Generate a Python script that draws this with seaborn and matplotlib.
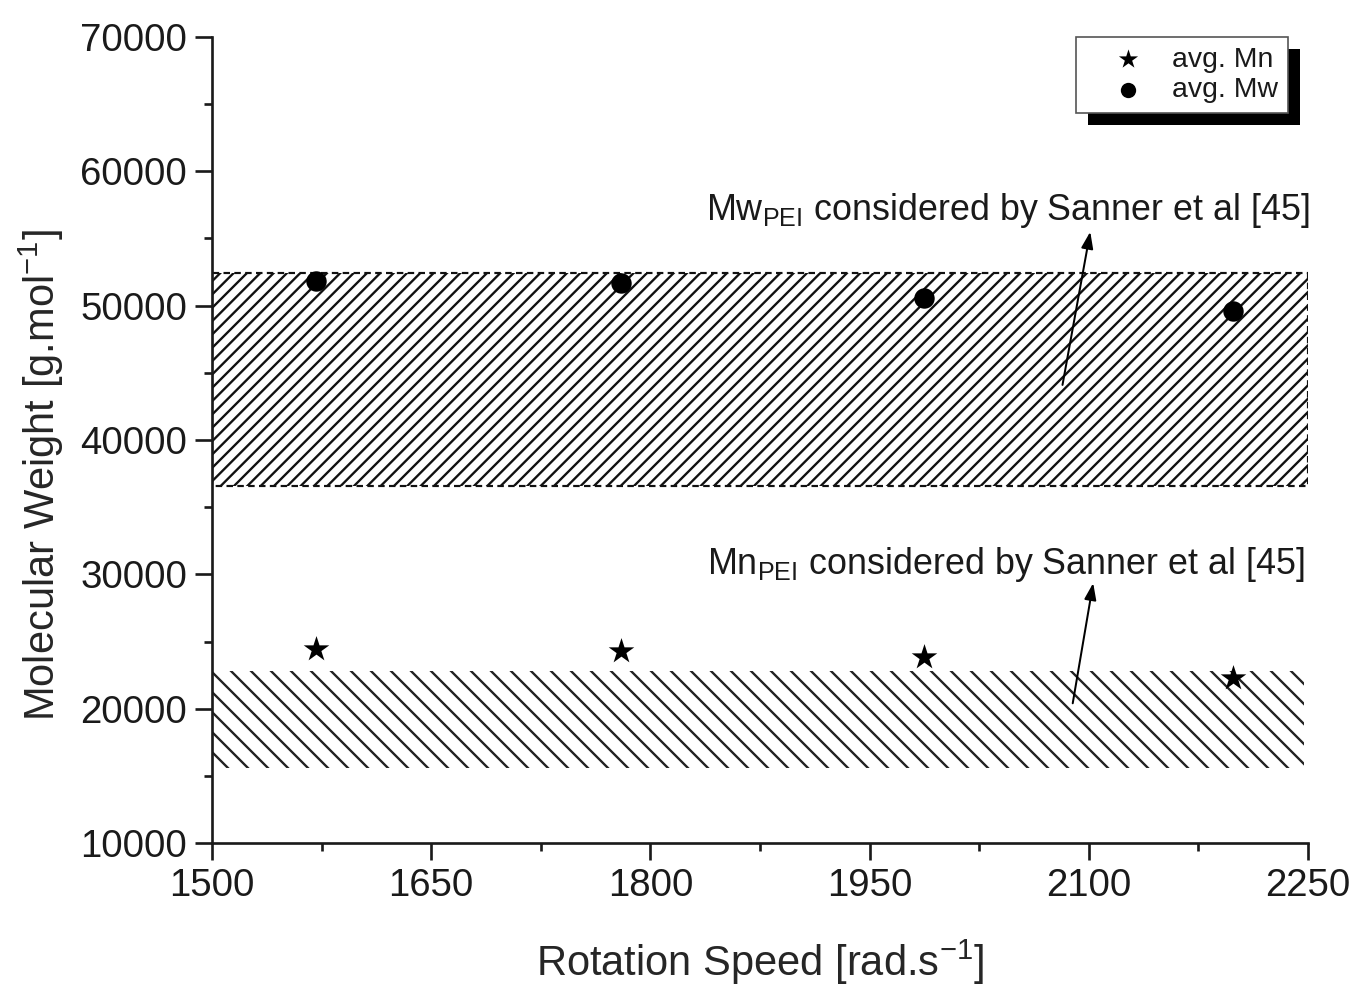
import numpy as np
import pandas as pd
import matplotlib
matplotlib.use("Agg")
import matplotlib.pyplot as plt
import seaborn as sns
from matplotlib.patches import Rectangle
from matplotlib.ticker import MultipleLocator, AutoMinorLocator

# Data
speed = [1571, 1780, 1987, 2199]
avg_mw = [51850, 51700, 50550, 49600]
avg_mn = [24450, 24300, 23850, 22250]

# Ranges reported by Sanner et al [45]
mw_band = [36550, 52400]
mn_band = [15600, 22800]
band_x = [1500, 2250]
mn_band_x = [1500, 2247]

sns.set_theme(style="ticks")
plt.rcParams['font.family'] = ['Liberation Sans', 'DejaVu Sans']
plt.rcParams['mathtext.default'] = 'regular'
plt.rcParams['hatch.linewidth'] = 1.4
plt.rcParams['text.color'] = '#1a1a1a'

fig = plt.figure(figsize=(1355 / 120, 987 / 120), dpi=120)
ax = fig.add_axes([212 / 1355, 1 - 843 / 987, 1096 / 1355, 806 / 987])

# hatched bands
ax.fill_between(band_x, mw_band[0], mw_band[1], facecolor='white',
                edgecolor='#111111', hatch='///', linestyle=(0, (3, 2)),
                linewidth=1.3, zorder=1)
ax.fill_between(mn_band_x, mn_band[0], mn_band[1], facecolor='white',
                edgecolor='#222222', hatch='\\\\', linewidth=0, zorder=1)

df = pd.DataFrame({'speed': speed * 2,
                   'mw': avg_mn + avg_mw,
                   'kind': ['avg. Mn'] * 4 + ['avg. Mw'] * 4})
sns.scatterplot(data=df[df.kind == 'avg. Mn'], x='speed', y='mw', marker='*',
                s=260, color='black', linewidth=0, label='avg. Mn', ax=ax, zorder=3)
sns.scatterplot(data=df[df.kind == 'avg. Mw'], x='speed', y='mw', marker='o',
                s=150, color='black', linewidth=0, label='avg. Mw', ax=ax, zorder=3)

ax.set_xlim(1500, 2250)
ax.set_ylim(10000, 70000)
ax.xaxis.set_major_locator(MultipleLocator(150))
ax.yaxis.set_major_locator(MultipleLocator(10000))
ax.xaxis.set_minor_locator(AutoMinorLocator(2))
ax.yaxis.set_minor_locator(AutoMinorLocator(2))

for s in ['top', 'right']:
    ax.spines[s].set_visible(False)
for s in ['left', 'bottom']:
    ax.spines[s].set_linewidth(1.6)
    ax.spines[s].set_color('#1a1a1a')
ax.tick_params(which='major', direction='out', length=10, width=1.6,
               labelsize=23, pad=5, color='#1a1a1a', labelcolor='#1a1a1a')
ax.tick_params(which='minor', direction='out', length=5, width=1.6, color='#1a1a1a')

ax.set_xlabel('Rotation Speed [rad.s$^{-1}$]', fontsize=25, labelpad=20)
ax.set_ylabel('Molecular Weight [g.mol$^{-1}$]', fontsize=25)
ax.yaxis.set_label_coords(-0.133, 0.457)

# annotations
ax.text(1838, 57100, 'Mw$_{PEI}$ considered by Sanner et al [45]',
        fontsize=21.5, va='center', ha='left')
ax.text(1839, 30700, 'Mn$_{PEI}$ considered by Sanner et al [45]',
        fontsize=21.5, va='center', ha='left')
arrow = dict(arrowstyle='-|>,head_length=0.7,head_width=0.25', lw=1.2,
             color='black', shrinkA=0, shrinkB=0)
ax.annotate('', xy=(2101, 55500), xytext=(2082, 44100), arrowprops=arrow)
ax.annotate('', xy=(2103, 29350), xytext=(2089, 20400), arrowprops=arrow)

leg = ax.legend(loc='upper right', bbox_to_anchor=(0.982, 1.0), borderaxespad=0,
                fontsize=17, frameon=True, fancybox=False, framealpha=1,
                edgecolor='#555555', handletextpad=0.05, borderpad=0.35,
                labelspacing=0.15, handlelength=3.0, markerscale=0.75)
leg.get_frame().set_linewidth(1.0)
leg.set_zorder(6)

# drop shadow behind legend box
fig.canvas.draw()
bb = leg.get_window_extent().transformed(fig.transFigure.inverted())
off_x, off_y = 12 / 1355, 12 / 987
fig.patches.append(Rectangle((bb.x0 + off_x, bb.y0 - off_y), bb.width, bb.height,
                             transform=fig.transFigure, facecolor='black',
                             edgecolor='none', zorder=0))
ax.set_zorder(1)
ax.patch.set_alpha(0)

fig.savefig('out.png', dpi=120, facecolor='white')
